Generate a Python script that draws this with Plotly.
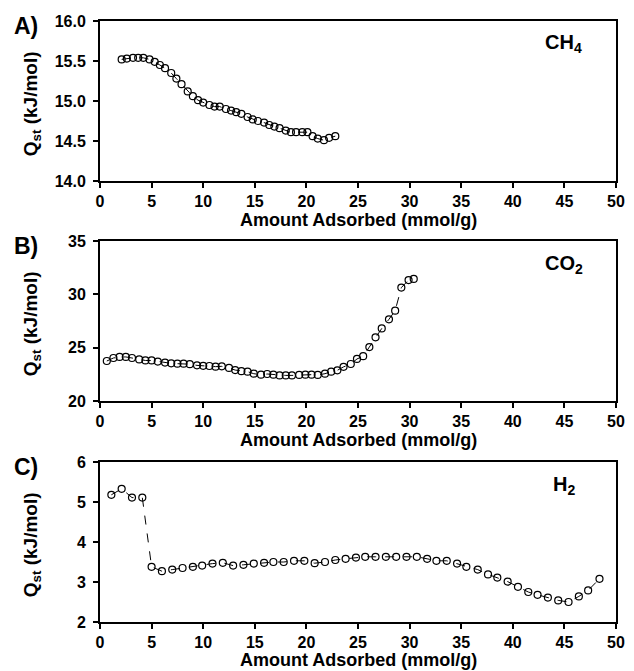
import plotly.graph_objects as go

# ---------------- data ----------------
ch4_x = [2.1, 2.6, 3.2, 3.7, 4.2, 4.8, 5.3, 5.8, 6.3, 6.9, 7.4, 7.9, 8.5, 9.0, 9.5,
         10.0, 10.6, 11.1, 11.6, 12.2, 12.7, 13.2, 13.7, 14.3, 14.8, 15.3, 15.9, 16.4,
         16.9, 17.4, 18.0, 18.5, 19.0, 19.6, 20.1, 20.6, 21.1, 21.7, 22.2, 22.8]
ch4_q = [15.52, 15.53, 15.54, 15.54, 15.54, 15.52, 15.49, 15.45, 15.41, 15.35, 15.28,
         15.21, 15.12, 15.06, 15.01, 14.98, 14.95, 14.93, 14.93, 14.90, 14.88, 14.86,
         14.84, 14.80, 14.77, 14.75, 14.73, 14.70, 14.68, 14.66, 14.63, 14.61, 14.61,
         14.61, 14.61, 14.56, 14.53, 14.51, 14.54, 14.56]

co2_x = [0.66, 1.3, 1.9, 2.5, 3.1, 3.8, 4.4, 5.0, 5.6, 6.3, 6.9, 7.5, 8.1, 8.7, 9.4,
         10.0, 10.6, 11.2, 11.8, 12.5, 13.1, 13.7, 14.3, 14.9, 15.6, 16.2, 16.8, 17.4,
         18.0, 18.6, 19.3, 19.9, 20.5, 21.1, 21.8, 22.4, 23.0, 23.6, 24.3, 24.9, 25.5,
         26.1, 26.7, 27.3, 28.0, 28.6, 29.2, 29.9, 30.4]
co2_q = [23.75, 24.03, 24.13, 24.13, 24.03, 23.9, 23.8, 23.8, 23.7, 23.6, 23.53, 23.5,
         23.5, 23.45, 23.34, 23.3, 23.28, 23.22, 23.25, 23.1, 22.9, 22.8, 22.75, 22.56,
         22.47, 22.53, 22.47, 22.4, 22.4, 22.4, 22.44, 22.47, 22.47, 22.44, 22.56, 22.75,
         22.88, 23.2, 23.47, 23.94, 24.2, 25.06, 25.97, 26.8, 27.66, 28.47, 30.63, 31.34,
         31.44]

h2_x = [1.1, 2.1, 3.1, 4.1, 5.0, 6.0, 7.0, 8.0, 9.0, 9.9, 10.9, 11.9, 12.9, 13.9, 14.9,
        15.9, 16.8, 17.8, 18.8, 19.8, 20.8, 21.8, 22.8, 23.8, 24.8, 25.7, 26.7, 27.7,
        28.7, 29.7, 30.7, 31.7, 32.6, 33.6, 34.6, 35.5, 36.6, 37.6, 38.5, 39.5, 40.5,
        41.5, 42.4, 43.4, 44.4, 45.4, 46.4, 47.3, 48.4]
h2_q = [5.18, 5.33, 5.11, 5.11, 3.38, 3.27, 3.31, 3.35, 3.38, 3.41, 3.46, 3.48, 3.41,
        3.43, 3.46, 3.48, 3.5, 3.5, 3.53, 3.53, 3.47, 3.5, 3.55, 3.58, 3.61, 3.63, 3.63,
        3.63, 3.63, 3.63, 3.63, 3.58, 3.53, 3.53, 3.46, 3.38, 3.31, 3.19, 3.11, 3.01,
        2.88, 2.75, 2.68, 2.61, 2.54, 2.5, 2.64, 2.79, 3.08]

x_ticks = [0, 5, 10, 15, 20, 25, 30, 35, 40, 45, 50]
y_ticks = [[14.0, 14.5, 15.0, 15.5, 16.0], [20, 25, 30, 35], [2, 3, 4, 5, 6]]
y_tick_labels = [["14.0", "14.5", "15.0", "15.5", "16.0"],
                 ["20", "25", "30", "35"],
                 ["2", "3", "4", "5", "6"]]
panel_letters = ["A)", "B)", "C)"]
gas_labels = ["CH<sub>4</sub>", "CO<sub>2</sub>", "H<sub>2</sub>"]
y_ranges = [[14.0, 16.0], [20, 35], [2, 6]]
x_title = "Amount Adsorbed (mmol/g)"
y_title = "Q<sub>st</sub> (kJ/mol)"

# ---------------- layout geometry (pixels) ----------------
W, H = 634, 671
L, R, T, B = 100, 625, 21, 622
panel_px = [(21, 181), (241, 401), (462, 622)]
x_title_offset = [39, 39, 38]


def py(p):
    return (B - p) / (B - T)


def px(p):
    return (p - L) / (R - L)


FONT = "Arial, 'Liberation Sans', sans-serif"

fig = go.Figure()
series = [(ch4_x, ch4_q), (co2_x, co2_q), (h2_x, h2_q)]
for i, (xs, ys) in enumerate(series):
    n = "" if i == 0 else str(i + 1)
    fig.add_trace(go.Scatter(
        x=xs, y=ys, mode="lines+markers",
        xaxis="x" + n, yaxis="y" + n,
        line=dict(color="black", width=1, dash="dash"),
        marker=dict(symbol="circle-open", size=7, color="black",
                    line=dict(width=1.2, color="black")),
        showlegend=False,
    ))

layout = dict(
    width=W, height=H,
    margin=dict(l=L, r=W - R, t=T, b=H - B),
    paper_bgcolor="white", plot_bgcolor="white",
    font=dict(family=FONT, color="black"),
    showlegend=False,
)

annotations = []
for i, (top, bot) in enumerate(panel_px):
    n = "" if i == 0 else str(i + 1)
    layout["xaxis" + n] = dict(
        domain=[0, 1], anchor="y" + n, range=[0, 50],
        tickmode="array", tickvals=x_ticks,
        ticktext=["<b>%d</b>" % v for v in x_ticks],
        ticks="outside", ticklen=5, tickwidth=2, tickcolor="black",
        showline=True, linewidth=2, linecolor="black", mirror=True,
        showgrid=False, zeroline=False,
        tickfont=dict(family=FONT, size=16, color="black"),
        ticklabelstandoff=0,
    )
    layout["yaxis" + n] = dict(
        domain=[py(bot), py(top)], anchor="x" + n, range=y_ranges[i],
        tickmode="array", tickvals=y_ticks[i],
        ticktext=["<b>%s</b>" % t for t in y_tick_labels[i]],
        ticks="outside", ticklen=5, tickwidth=2, tickcolor="black",
        showline=True, linewidth=2, linecolor="black", mirror=True,
        showgrid=False, zeroline=False,
        tickfont=dict(family=FONT, size=16, color="black"),
        ticklabelstandoff=4,
    )
    # x title
    annotations.append(dict(
        text="<b>%s</b>" % x_title, xref="paper", yref="paper", x=px(363),
        y=py(bot + x_title_offset[i]),
        xanchor="center", yanchor="middle", showarrow=False,
        font=dict(family=FONT, size=18, color="black")))
    # y title
    annotations.append(dict(
        text="<b>%s</b>" % y_title, xref="paper", yref="paper", x=px(31),
        y=py((top + bot) / 2 + 3),
        xanchor="center", yanchor="middle", showarrow=False, textangle=-90,
        font=dict(family=FONT, size=19, color="black")))
    # panel letter
    annotations.append(dict(
        text="<b>%s</b>" % panel_letters[i], xref="paper", yref="paper", x=px(25),
        y=py(top + 5),
        xanchor="center", yanchor="middle", showarrow=False,
        font=dict(family=FONT, size=23, color="black")))
    # gas label
    annotations.append(dict(
        text="<b>%s</b>" % gas_labels[i], xref="paper", yref="paper", x=px(572),
        y=py(top + 23),
        xanchor="center", yanchor="middle", showarrow=False,
        font=dict(family=FONT, size=20, color="black")))

layout["annotations"] = annotations
fig.update_layout(**layout)
fig.write_html("out.html")
